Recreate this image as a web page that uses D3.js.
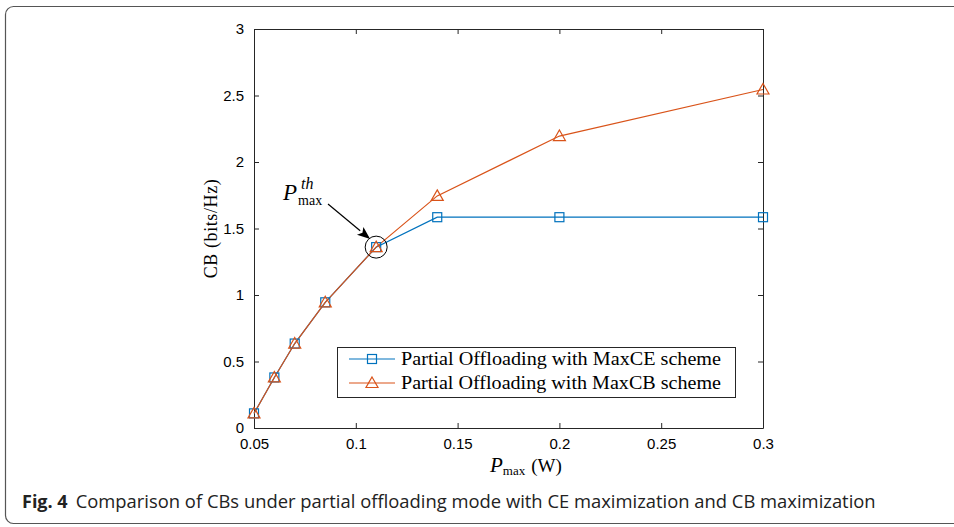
<!DOCTYPE html>
<html><head><meta charset="utf-8">
<script src="https://cdn.jsdelivr.net/npm/d3@7"></script>
<style>body{margin:0;background:#fff}svg{display:block}</style>
</head><body>
<script>
const xValues = [0.05, 0.06, 0.07, 0.085, 0.11, 0.14, 0.2, 0.3];
const maxCE = [0.11, 0.38, 0.635, 0.945, 1.36, 1.585, 1.585, 1.585];
const maxCB = [0.11, 0.38, 0.635, 0.945, 1.36, 1.745, 2.195, 2.545];
const seriesNames = ["Partial Offloading with MaxCE scheme", "Partial Offloading with MaxCB scheme"];
const xTicks = [0.05, 0.1, 0.15, 0.2, 0.25, 0.3];
const yTicks = [0, 0.5, 1, 1.5, 2, 2.5, 3];
const colors = ["#0072BD", "#D95319"];

const W = 954, H = 527;
const svg = d3.select("body").append("svg").attr("width", W).attr("height", H);

// frame
svg.append("rect").attr("x", 5.5).attr("y", 6.5).attr("width", 1000).attr("height", 517)
  .attr("rx", 8).attr("fill", "none").attr("stroke", "#555").attr("stroke-width", 1.2);

const L = 254, R = 763, T = 29, B = 428;
const x = d3.scaleLinear().domain([0.05, 0.3]).range([L, R]);
const y = d3.scaleLinear().domain([0, 3]).range([B, T]);
const axisColor = "#262626";

function styleAxis(g) {
  g.select(".domain").attr("stroke", axisColor);
  g.selectAll(".tick line").attr("stroke", axisColor);
  g.selectAll(".tick text").attr("fill", "#000").attr("font-family", "Liberation Sans, Arial, sans-serif").attr("font-size", 15);
}
const gx = svg.append("g").attr("transform", `translate(0,${B})`)
  .call(d3.axisBottom(x).tickValues(xTicks).tickSizeInner(-5).tickSizeOuter(0).tickPadding(10).tickFormat(d3.format("")));
styleAxis(gx);
const gxt = svg.append("g").attr("transform", `translate(0,${T})`)
  .call(d3.axisTop(x).tickValues(xTicks).tickSizeInner(-5).tickSizeOuter(0).tickFormat(""));
styleAxis(gxt);
const gy = svg.append("g").attr("transform", `translate(${L},0)`)
  .call(d3.axisLeft(y).tickValues(yTicks).tickSizeInner(-5).tickSizeOuter(0).tickPadding(10).tickFormat(d3.format("")));
styleAxis(gy);
const gyr = svg.append("g").attr("transform", `translate(${R},0)`)
  .call(d3.axisRight(y).tickValues(yTicks).tickSizeInner(-5).tickSizeOuter(0).tickFormat(""));
styleAxis(gyr);

const line = d3.line().x(d => x(d[0])).y(d => y(d[1]));
const data = [xValues.map((v, i) => [v, maxCE[i]]), xValues.map((v, i) => [v, maxCB[i]])];

function square(g, cx, cy, c) {
  g.append("rect").attr("x", cx - 4.5).attr("y", cy - 4.5).attr("width", 9).attr("height", 9)
    .attr("fill", "none").attr("stroke", c).attr("stroke-width", 1.2);
}
function tri(g, cx, cy, c) {
  const s = 6;
  g.append("path").attr("d", `M${cx},${cy - s}L${cx + s},${cy + s * 0.75}L${cx - s},${cy + s * 0.75}Z`)
    .attr("fill", "none").attr("stroke", c).attr("stroke-width", 1.2);
}
const plot = svg.append("g");
data.forEach((d, i) => {
  plot.append("path").datum(d).attr("d", line).attr("fill", "none").attr("stroke", colors[i]).attr("stroke-width", 1.2);
});
data[0].forEach(p => square(plot, x(p[0]), y(p[1]), colors[0]));
data[1].forEach(p => tri(plot, x(p[0]), y(p[1]), colors[1]));

// annotation
const serif = "Liberation Serif, Times New Roman, serif";
const cx0 = x(xValues[4]), cy0 = y(maxCB[4]);
svg.append("circle").attr("cx", cx0).attr("cy", cy0).attr("r", 11).attr("fill", "none").attr("stroke", "#000").attr("stroke-width", 1);
const ax1 = 328, ay1 = 204, ax2 = cx0 - 6, ay2 = cy0 - 8;
const ang = Math.atan2(ay2 - ay1, ax2 - ax1);
const hl = 13, hw = 5;
const bx = ax2 - hl * Math.cos(ang), by = ay2 - hl * Math.sin(ang);
svg.append("line").attr("x1", ax1).attr("y1", ay1).attr("x2", bx).attr("y2", by).attr("stroke", "#000").attr("stroke-width", 1.2);
svg.append("path").attr("d", `M${ax2},${ay2}L${bx - hw * Math.sin(ang)},${by + hw * Math.cos(ang)}L${bx + 3 * Math.cos(ang)},${by + 3 * Math.sin(ang)}L${bx + hw * Math.sin(ang)},${by - hw * Math.cos(ang)}Z`).attr("fill", "#000");
const ann = svg.append("text").attr("x", 283).attr("y", 200).attr("font-family", serif).attr("fill", "#000");
ann.append("tspan").attr("font-style", "italic").attr("font-size", 23).text("P");
ann.append("tspan").attr("font-size", 14).attr("dx", 1).attr("dy", 5).text("max");
svg.append("text").attr("x", 301).attr("y", 189).attr("font-family", serif).attr("font-style", "italic").attr("font-size", 16).text("th");

// legend
const lg = svg.append("g");
lg.append("rect").attr("x", 337.5).attr("y", 347.5).attr("width", 398).attr("height", 50).attr("fill", "#fff").attr("stroke", axisColor).attr("stroke-width", 1);
seriesNames.forEach((n, i) => {
  const ly = 359 + i * 24;
  lg.append("line").attr("x1", 349).attr("x2", 395).attr("y1", ly).attr("y2", ly).attr("stroke", colors[i]).attr("stroke-width", 1.2);
  if (i === 0) square(lg, 372, ly, colors[0]); else tri(lg, 372, ly, colors[1]);
  lg.append("text").attr("x", 401).attr("y", ly + 6).attr("font-family", serif).attr("font-size", 18)
    .attr("textLength", 320).attr("lengthAdjust", "spacingAndGlyphs").text(n);
});

// axis labels
const xl = svg.append("text").attr("x", 490).attr("y", 472).attr("font-family", serif).attr("fill", "#000");
xl.append("tspan").attr("font-style", "italic").attr("font-size", 21).text("P");
xl.append("tspan").attr("font-size", 13).attr("dy", 3).text("max");
xl.append("tspan").attr("font-size", 19).attr("dy", -3).attr("dx", 6).text("(W)");
svg.append("text").attr("transform", `translate(217,${(T + B) / 2}) rotate(-90)`).attr("text-anchor", "middle")
  .attr("font-family", serif).attr("font-size", 18).attr("letter-spacing", 0.6).text("CB (bits/Hz)");

// caption
const cap = svg.append("text").attr("x", 22).attr("y", 508).attr("font-family", "Open Sans, Noto Sans, sans-serif").attr("font-size", 18).attr("fill", "#222");
cap.append("tspan").attr("font-weight", "bold").text("Fig. 4");
cap.append("tspan").attr("dx", 8).attr("textLength", 800).attr("lengthAdjust", "spacingAndGlyphs").text("Comparison of CBs under partial offloading mode with CE maximization and CB maximization");
</script>
</body></html>
